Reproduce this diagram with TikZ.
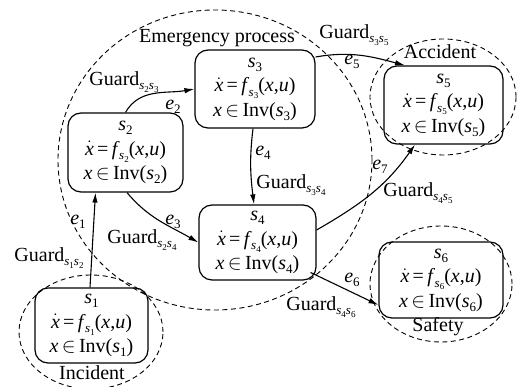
\documentclass[tikz,border=0pt]{standalone}
\usepackage{fontspec}
\setmainfont{Liberation Serif}
\usetikzlibrary{arrows.meta}
\newcommand\Sx[1]{\textit{s}\raisebox{-4pt}{\fontsize{13}{13}\selectfont #1}}
\newcommand\Ss[1]{\raisebox{-4.5pt}{\fontsize{13}{13}\selectfont\textit{s}\raisebox{-2.5pt}{\fontsize{9}{9}\selectfont #1}}}
\newcommand\Ex[1]{\textit{e}\raisebox{-4pt}{\fontsize{13}{13}\selectfont #1}}
\newcommand\Fl[1]{$\dot{\hbox{\textit{x}}}$\,=\,\textit{f}\kern-0.5pt\Ss{#1}(\textit{x},\textit{u})}
\newcommand\Iv[1]{\textit{x}\,$\in$\,Inv(\Sx{#1})}
\newcommand\Gd[2]{Guard\Ss{#1}\Ss{#2}}
\begin{document}
\begin{tikzpicture}[x=1pt,y=1pt,
  font=\fontsize{20}{24.5}\selectfont,
  state/.style={draw, line width=1.2pt, rounded corners=13pt, align=center, inner sep=0pt},
  region/.style={draw, dash pattern=on 5pt off 3.5pt, line width=0.9pt},
  edge/.style={line width=1.1pt, -{Latex[length=10pt,width=5.5pt]}},
  lbl/.style={inner sep=0pt}]
\path[use as bounding box, clip] (0,0) rectangle (524,387);
\fill[white] (0,0) rectangle (524,387);

% regions
\draw[region] (215,227) ellipse [x radius=157pt, y radius=150pt];
\draw[region] (443,290) ellipse [x radius=73pt, y radius=58pt];
\draw[region] (441,103) ellipse [x radius=71pt, y radius=58pt];
\draw[region] (91,55) ellipse [x radius=72pt, y radius=57pt];

% states
\node[state, minimum width=113pt, minimum height=75pt] (s1) at (91.5,61.5)
  {\Sx{1}\\ \Fl{1}\\ \Iv{1}};
\node[state, minimum width=115pt, minimum height=79pt] (s2) at (125.5,234.5)
  {\Sx{2}\\ \Fl{2}\\ \Iv{2}};
\node[state, minimum width=120pt, minimum height=78pt] (s3) at (255,298)
  {\Sx{3}\\ \Fl{3}\\ \Iv{3}};
\node[state, minimum width=117pt, minimum height=75pt] (s4) at (257.5,144.5)
  {\Sx{4}\\ \Fl{4}\\ \Iv{4}};
\node[state, minimum width=119pt, minimum height=78pt] (s5) at (443.5,282)
  {\Sx{5}\\ \Fl{5}\\ \Iv{5}};
\node[state, minimum width=124pt, minimum height=76pt] (s6) at (441,107)
  {\Sx{6}\\ \Fl{6}\\ \Iv{6}};

% region labels
\node[lbl] (lem) at (217,349) {Emergency process};
\node[lbl] (lac) at (440,335) {Accident};
\node[lbl] (lsa) at (438,60) {Safety};
\node[lbl] (lin) at (92,14) {Incident};

% edges
\draw[edge] ([xshift=-1.5pt]s1.north) -- ([xshift=-30pt]s2.south);
\draw[edge] (s2.north) to[out=60,in=190] (s3.west);
\draw[edge] ([xshift=1.5pt]s2.south) to[out=-50,in=150] (s4.west);
\draw[edge] ([xshift=-2pt]s3.south) to[out=-97,in=97] ([xshift=-3.5pt]s4.north);
\draw[edge] ([yshift=32pt]s3.east) to[out=10,in=165] ([xshift=-38.5pt]s5.north);
\draw[edge] ([yshift=12.5pt]s4.east) to[out=30,in=-125] ([xshift=-28.5pt]s5.south);
\draw[edge] ([xshift=-6pt,yshift=-30pt]s4.east) -- ([yshift=-25pt]s6.west);

% edge labels
\node[lbl] (e1) at (78,165) {\Ex{1}};
\node[lbl] (e2) at (173,280) {\Ex{2}};
\node[lbl] (e3) at (173,165) {\Ex{3}};
\node[lbl] (e4) at (263,234) {\Ex{4}};
\node[lbl] (e5) at (352,325) {\Ex{5}};
\node[lbl] (e6) at (352,107) {\Ex{6}};
\node[lbl] (e7) at (380,220) {\Ex{7}};

\node[lbl] (g12) at (49,129) {\Gd{1}{2}};
\node[lbl] (g23) at (124,305) {\Gd{2}{3}};
\node[lbl] (g24) at (142,147) {\Gd{2}{4}};
\node[lbl] (g34) at (291,202) {\Gd{3}{4}};
\node[lbl] (g35) at (354,352) {\Gd{3}{5}};
\node[lbl] (g45) at (418,194) {\Gd{4}{5}};
\node[lbl] (g46) at (321,80) {\Gd{4}{6}};
\end{tikzpicture}
\end{document}
